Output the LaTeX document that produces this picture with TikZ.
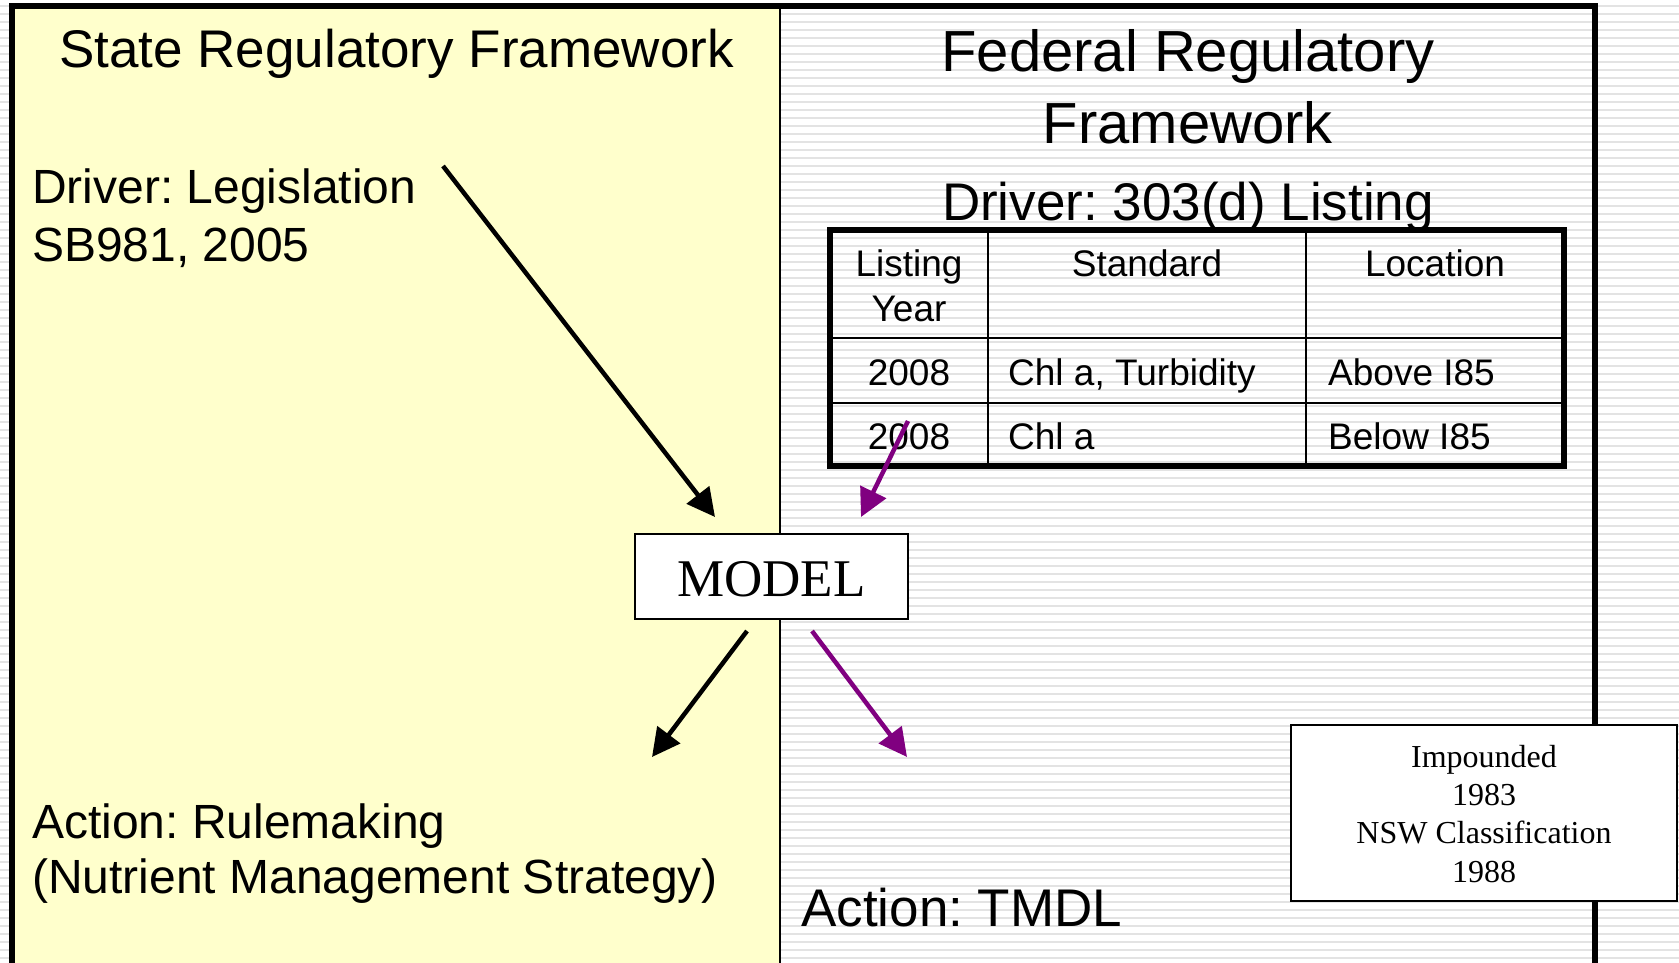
\documentclass[tikz,border=0pt]{standalone}
\usepackage{fontspec}
\setmainfont{Liberation Sans}
\newfontfamily\seriffont{Liberation Serif}
\usetikzlibrary{arrows.meta}
\frenchspacing
\definecolor{paleyellow}{HTML}{FFFFCC}
\definecolor{stripegray}{HTML}{E3E3E3}
\definecolor{arrowpurple}{HTML}{800080}
\tikzset{
  txt/.style={inner sep=0pt, anchor=base west},
  ctxt/.style={inner sep=0pt, anchor=base},
  arr/.style={line width=4.5pt, -{Triangle[length=28pt,width=28pt]}},
  parr/.style={arr, draw=arrowpurple, arrowpurple},
  barr/.style={arr, draw=black},
  tbl/.style={line width=6pt},
  tblin/.style={line width=2.5pt},
  ttl/.style={font=\fontsize{53}{60}\selectfont},
  ftl/.style={font=\fontsize{58}{66}\selectfont},
  big/.style={font=\fontsize{48}{56}\selectfont},
  cell/.style={font=\fontsize{37}{44}\selectfont},
  impt/.style={ctxt, font=\seriffont\fontsize{32}{38}\selectfont},
}
\begin{document}
\begin{tikzpicture}[x=1pt,y=-1pt]
\useasboundingbox (0,0) rectangle (1679,963);
\clip (0,0) rectangle (1679,963);
% background with grey horizontal stripes
\fill[white] (0,0) rectangle (1679,963);
\foreach \k in {0,...,120} \draw[stripegray, line width=1.1pt] (0,6+8*\k) -- (1679,6+8*\k);
% state panel
\fill[paleyellow] (12,6) rectangle (780,1000);
\draw[line width=2pt] (780,6) -- (780,1000);
% outer frame
\draw[line width=6pt] (12,1000) -- (12,6) -- (1595,6) -- (1595,1000);

% state texts
\node[txt, ttl] (stitle) at (59,68) {State Regulatory Framework};
\node[txt, big] (drv1) at (32,203) {Driver: Legislation};
\node[txt, big] (drv2) at (32,261) {SB981, 2005};
\node[txt, big] (act1) at (32,838) {Action: Rulemaking};
\node[txt, big] (act2) at (32,893) {(Nutrient Management Strategy)};

% federal texts
\node[ctxt, ftl] (ftitle1) at (1188,72) {Federal Regulatory};
\node[ctxt, ftl] (ftitle2) at (1188,143) {Framework};
\node[ctxt, ttl] (fdrv) at (1188,220) {Driver: 303(d) Listing};
\node[txt, font=\fontsize{53}{60}\selectfont] (fact) at (801,926) {Action: TMDL};

% table
\coordinate (tnw) at (830,230);
\coordinate (tse) at (1564,466);
\draw[tblin] (988,230) -- (988,466);
\draw[tblin] (1306,230) -- (1306,466);
\draw[tblin] (830,338) -- (1564,338);
\draw[tblin] (830,403) -- (1564,403);
\draw[tbl] (tnw) rectangle (tse);
\node[ctxt, cell] (h1a) at (909,276) {Listing};
\node[ctxt, cell] (h1b) at (909,321) {Year};
\node[ctxt, cell] (h2) at (1147,276) {Standard};
\node[ctxt, cell] (h3) at (1435,276) {Location};
\node[ctxt, cell] (r1c1) at (909,385) {2008};
\node[txt, cell] (r1c2) at (1008,385) {Chl a, Turbidity};
\node[txt, cell] (r1c3) at (1328,385) {Above I85};
\node[ctxt, cell] (r2c1) at (909,449) {2008};
\node[txt, cell] (r2c2) at (1008,449) {Chl a};
\node[txt, cell] (r2c3) at (1328,449) {Below I85};

% model box
\node[draw, line width=2pt, fill=white, minimum width=273pt, minimum height=85pt,
      inner sep=0pt, text height=41pt, text depth=0pt,
      font=\seriffont\fontsize{53}{60}\selectfont] (model) at (771.5,576) {MODEL};

% impounded box
\node[draw, line width=1.5pt, fill=white, minimum width=386pt, minimum height=176pt] (imp) at (1484,813) {};
\node[impt] (i1) at (1484,767) {Impounded};
\node[impt] (i2) at (1484,805) {1983};
\node[impt] (i3) at (1484,843) {NSW Classification};
\node[impt] (i4) at (1484,882) {1988};

% arrows
\coordinate (a1s) at (443,166);
\coordinate (a1e) at (715,517);
\coordinate (a2s) at (908,421);
\coordinate (a2e) at (861,517);
\coordinate (a3s) at (747,631);
\coordinate (a3e) at (652,757);
\coordinate (a4s) at (812,631);
\coordinate (a4e) at (907,757);
\draw[barr] (a1s) -- (a1e);
\draw[parr] (a2s) -- (a2e);
\draw[barr] (a3s) -- (a3e);
\draw[parr] (a4s) -- (a4e);
\end{tikzpicture}
\end{document}
